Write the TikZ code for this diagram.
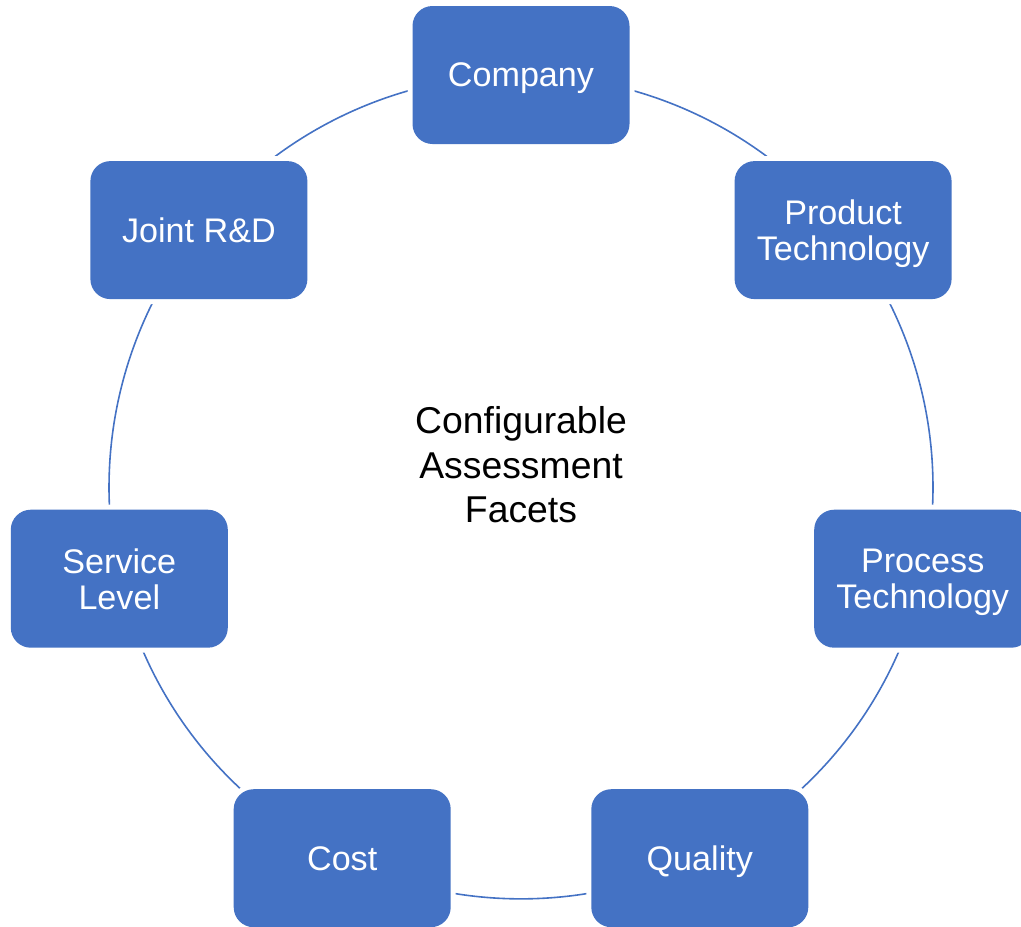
\documentclass[tikz,border=0pt]{standalone}
\usepackage{fontspec}
\setmainfont{Liberation Sans}
\usepackage{xcolor}
\definecolor{Facet}{HTML}{4472C4}
\usetikzlibrary{backgrounds}

\begin{document}
\begin{tikzpicture}[x=0.75pt, y=-0.75pt,
  facet/.style={rectangle, rounded corners=15pt, fill=Facet, text=white,
                minimum width=162.75pt, minimum height=103.5pt, align=center,
                inner sep=2pt, text depth=0pt, font=\fontsize{25.6}{27}\selectfont,
                preaction={draw=white, line width=7.5pt}},
  ring/.style={draw=Facet, line width=1.2pt},
  hub/.style={align=center, text=black, font=\fontsize{28}{33.4}\selectfont}
]
\useasboundingbox (0,0) rectangle (1021,926);
\clip (0,0) rectangle (1021,926);

%% ---- Centre label ----
\node[hub] (facets) at (521, 465) {Configurable\\Assessment\\Facets};

%% ---- Facets, clockwise from the top ----
\node[facet] (company)  at (521.0,  75.0) {Company};
\node[facet] (prodtech) at (843.1, 230.1) {Product\\Technology};
\node[facet] (proctech) at (922.7, 578.7) {Process\\Technology};
\node[facet] (quality)  at (699.8, 858.2) {Quality};
\node[facet] (cost)     at (342.2, 858.2) {Cost};
\node[facet] (service)  at (119.3, 578.7) {Service\\Level};
\node[facet] (jointrd)  at (198.9, 230.1) {Joint R\&D};

%% ---- Ring joining the facets ----
% bend/looseness chosen so each piece follows one circle through the centres
\begin{scope}[on background layer]
  \foreach \from/\to in {company/prodtech, prodtech/proctech, proctech/quality,
                         quality/cost, cost/service, service/jointrd, jointrd/company}
    \draw[ring] (\from.center) to[bend left=25.71, looseness=0.896] (\to.center);
\end{scope}

\end{tikzpicture}
\end{document}
